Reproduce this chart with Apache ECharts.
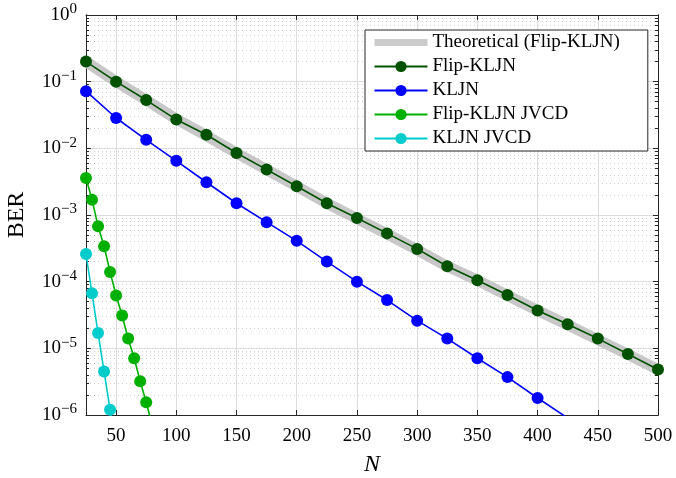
<!DOCTYPE html>
<head>
    <meta charset="utf-8">
    <title>BER vs N</title>
    <style>body{margin:0;background:#fff}</style>
</head>
<body>
    <div id="main" style="width:676px;height:478px"></div>
    <script src="https://cdn.jsdelivr.net/npm/echarts@6/dist/echarts.min.js"></script>
    <script type="text/javascript">

    // N values
    var nStep25 = [25, 50, 75, 100, 125, 150, 175, 200, 225, 250, 275, 300, 325, 350, 375, 400, 425, 450, 475, 500];
    var nStep5 = [25, 30, 35, 40, 45, 50, 55, 60, 65, 70, 75, 80];

    // BER values
    var theoryBer = [2.0e-1, 1.0e-1, 5.3e-2, 2.75e-2, 1.55e-2, 8.5e-3, 4.8e-3, 2.7e-3, 1.5e-3, 8.8e-4, 5.2e-4, 3.0e-4, 1.7e-4, 1.05e-4, 6.2e-5, 3.7e-5, 2.25e-5, 1.35e-5, 8.1e-6, 4.8e-6];
    var flipBer = [2.0e-1, 1.0e-1, 5.3e-2, 2.7e-2, 1.6e-2, 8.5e-3, 4.8e-3, 2.7e-3, 1.5e-3, 9.0e-4, 5.3e-4, 3.1e-4, 1.7e-4, 1.05e-4, 6.3e-5, 3.7e-5, 2.3e-5, 1.4e-5, 8.2e-6, 4.8e-6];
    var kljnBer = [7.2e-2, 2.85e-2, 1.34e-2, 6.5e-3, 3.1e-3, 1.5e-3, 7.8e-4, 4.1e-4, 2.0e-4, 1.0e-4, 5.3e-5, 2.6e-5, 1.4e-5, 7.1e-6, 3.7e-6, 1.8e-6, 9.0e-7, 4.5e-7, 2.2e-7, 1.1e-7];
    var flipJvcdBer = [3.6e-3, 1.7e-3, 6.8e-4, 3.4e-4, 1.4e-4, 6.2e-5, 3.1e-5, 1.4e-5, 7.1e-6, 3.2e-6, 1.55e-6, 7.0e-7];
    var kljnJvcdBer = [2.6e-4, 6.7e-5, 1.7e-5, 4.5e-6, 1.2e-6, 3.0e-7];

    // tick labels
    var xTicks = [50, 100, 150, 200, 250, 300, 350, 400, 450, 500];
    var yDecades = [1e-6, 1e-5, 1e-4, 1e-3, 1e-2, 1e-1, 1];
    var yMinor = [];
    for (var d = -6; d < 0; d++) {
        for (var k = 2; k <= 9; k++) yMinor.push(k * Math.pow(10, d));
    }

    function pairs(xs, ys) {
        return ys.map(function (v, i) { return [xs[i], v]; });
    }

    var font = 'Liberation Serif';
    var myChart = echarts.init(document.getElementById('main'));

    function lineSeries(name, color, xs, ys) {
        return {
            name: name, type: 'line', data: pairs(xs, ys),
            symbol: 'circle', symbolSize: 12,
            lineStyle: { color: color, width: 1.6 },
            itemStyle: { color: color },
            clip: true, z: 3
        };
    }

    var baseY = {
        type: 'log', logBase: 10, min: 1e-6, max: 1,
        axisLine: { show: true, lineStyle: { color: '#262626', width: 1 } },
        axisLabel: { show: false },
        splitLine: { show: false }
    };

    var option = {
        animation: false,
        grid: { left: 86, right: 18, top: 15, bottom: 63, outerBoundsMode: 'none' },
        legend: {
            orient: 'vertical', left: 365, top: 30,
            backgroundColor: '#fff', borderColor: '#262626', borderWidth: 1,
            padding: [3, 28, 3, 6], itemGap: 5,
            itemWidth: 53, itemHeight: 14,
            textStyle: { fontFamily: font, fontSize: 19, color: '#000' },
            data: [
                { name: 'Theoretical (Flip-KLJN)', itemStyle: { opacity: 0 }, lineStyle: { width: 7, color: '#cccccc' } },
                'Flip-KLJN', 'KLJN', 'Flip-KLJN JVCD', 'KLJN JVCD'
            ]
        },
        xAxis: [{
            type: 'value', min: 25, max: 500,
            name: 'N', nameLocation: 'middle', nameGap: 38,
            nameTextStyle: { fontFamily: font, fontStyle: 'italic', fontSize: 24, color: '#000' },
            axisLine: { lineStyle: { color: '#262626' } },
            axisTick: { inside: true, length: 5, customValues: xTicks, lineStyle: { color: '#262626' } },
            axisLabel: { customValues: xTicks, margin: 12, fontFamily: font, fontSize: 19, color: '#000' },
            splitLine: { show: true, lineStyle: { color: '#dcdcdc', width: 1 } }
        }, {
            type: 'value', min: 25, max: 500, position: 'top',
            axisLine: { show: true, lineStyle: { color: '#262626' } },
            axisTick: { inside: true, length: 5, customValues: xTicks, lineStyle: { color: '#262626' } },
            axisLabel: { show: false },
            splitLine: { show: false }
        }],
        yAxis: [
            echarts.util.merge({
                position: 'left',
                name: 'BER', nameLocation: 'middle', nameGap: 57,
                nameTextStyle: { fontFamily: font, fontSize: 24, color: '#000' },
                axisTick: { inside: true, length: 5, customValues: yDecades, lineStyle: { color: '#262626' } },
                axisLabel: {
                    show: true, customValues: yDecades, margin: 9,
                    formatter: function (v) {
                        var e = Math.round(Math.log(v) / Math.LN10);
                        return '{b|10}{e|' + String(e).replace('-', '\u2212') + '}';
                    },
                    rich: {
                        b: { fontFamily: font, fontSize: 19, color: '#000' },
                        e: { fontFamily: font, fontSize: 15, color: '#000', padding: [0, 0, 11, 0] }
                    }
                },
                splitLine: { show: true, lineStyle: { color: '#dcdcdc', width: 1 } }
            }, baseY, false),
            echarts.util.merge({
                position: 'left',
                axisTick: { inside: true, length: 3, customValues: yMinor, lineStyle: { color: '#262626' } },
                splitLine: { show: true, lineStyle: { color: '#cfcfcf', width: 1, type: [1, 3] } }
            }, baseY, false),
            echarts.util.merge({
                position: 'right',
                axisTick: { inside: true, length: 5, customValues: yDecades, lineStyle: { color: '#262626' } }
            }, baseY, false),
            echarts.util.merge({
                position: 'right',
                axisTick: { inside: true, length: 3, customValues: yMinor, lineStyle: { color: '#262626' } }
            }, baseY, false)
        ],
        series: [
            {
                name: 'Theoretical (Flip-KLJN)', type: 'line', data: pairs(nStep25, theoryBer),
                symbol: 'none', lineStyle: { color: '#c8c8c8', width: 11 },
                itemStyle: { color: '#c8c8c8' }, z: 2
            },
            lineSeries('Flip-KLJN', '#005200', nStep25, flipBer),
            lineSeries('KLJN', '#0000ff', nStep25, kljnBer),
            lineSeries('Flip-KLJN JVCD', '#00b000', nStep5, flipJvcdBer),
            lineSeries('KLJN JVCD', '#00cccc', nStep5, kljnJvcdBer)
        ]
    };

    myChart.setOption(option);
    </script>
</body>
